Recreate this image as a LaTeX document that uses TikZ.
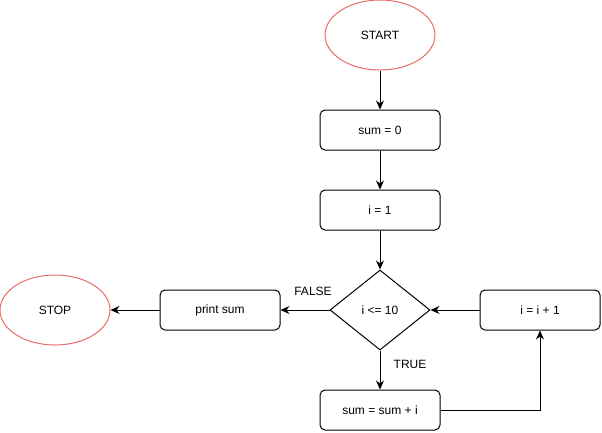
\documentclass[tikz,border=0pt]{standalone}
\usepackage{fontspec}
\setmainfont{Liberation Sans}
\usetikzlibrary{shapes.geometric,arrows.meta}
\definecolor{ered}{HTML}{EA6B66}
\begin{document}
\begin{tikzpicture}[x=1pt,y=-1pt,
  every node/.style={font=\fontsize{12}{14}\selectfont, inner sep=0pt},
  term/.style={ellipse, draw=ered, line width=1pt, minimum width=110pt, minimum height=70pt},
  proc/.style={rectangle, rounded corners=5pt, draw=black, line width=1pt, minimum width=120pt, minimum height=40pt},
  dec/.style={diamond, draw=black, line width=1pt, minimum width=100pt, minimum height=80pt, aspect=1.25},
  conn/.style={draw=black, line width=1pt, -{Stealth[length=9pt,width=8pt,inset=3pt]}},
  lbl/.style={font=\fontsize{12}{14}\selectfont}]
\useasboundingbox (0,0) rectangle (602,432);
\node[term] (start) at (380,35) {START};
\node[proc] (sum0) at (380,130) {sum = 0};
\node[proc] (i1) at (380,210) {i = 1};
\node[dec] (cond) at (380,310) {i <= 10};
\node[proc] (print) at (220,310) {print sum};
\node[term] (stop) at (55,310) {STOP};
\node[proc] (incr) at (540,310) {i = i + 1};
\node[proc] (body) at (380,410) {sum = sum + i};
\draw[conn] (start) -- (sum0);
\draw[conn] (sum0) -- (i1);
\draw[conn] (i1) -- (cond);
\draw[conn] (cond.west) -- (print.east);
\draw[conn] (print) -- (stop);
\draw[conn] (cond.south) -- (body.north);
\draw[conn] (body.east) -| (incr.south);
\draw[conn] (incr.west) -- (cond.east);
\node[lbl] (lfalse) at (313,291) {FALSE};
\node[lbl] (ltrue) at (410,364) {TRUE};
\end{tikzpicture}
\end{document}
